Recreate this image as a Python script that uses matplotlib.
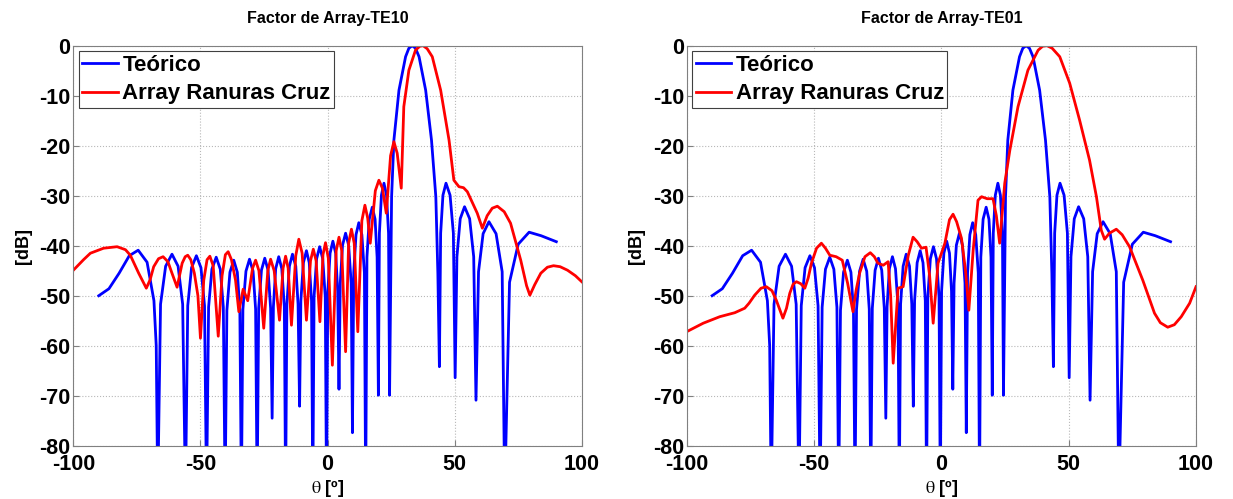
import matplotlib
matplotlib.use("Agg")
import matplotlib.pyplot as plt

# theoretical array factor (same in both panels)
theta_teo = [-90, -86, -82, -78, -74.5, -71.0, -68.3, -67.4, -66.8,
             -65.7, -63.7, -61.2, -58.8, -57.0, -55.9,
             -55.0, -53.5, -51.6, -49.8, -48.4, -47.6,
             -46.8, -45.5, -43.8, -42.2, -41.0, -40.3,
             -39.6, -38.4, -36.9, -35.5, -34.5, -33.9,
             -33.3, -32.1, -30.7, -29.3, -28.3, -27.7,
             -27.1, -26.0, -24.7, -23.4, -22.4, -21.8,
             -21.3, -20.4, -19.2, -18.0, -17.0, -16.5,
             -16.0, -15.0, -13.8, -12.5, -11.6, -11.0,
             -10.5, -9.5, -8.3, -7.2, -6.3, -5.8,
             -5.3, -4.3, -3.1, -1.9, -0.9, -0.4,
             0.1, 1.0, 2.1, 3.2, 4.0, 4.5,
             5.0, 5.9, 7.1, 8.3, 9.3, 9.8,
             10.3, 11.2, 12.3, 13.5, 14.5, 15.0,
             15.5, 16.4, 17.6, 18.7, 19.5, 20.0,
             20.4, 21.2, 22.2, 23.2, 24.0, 24.4,
             25.2, 26.1, 28.1, 30.7, 32.0, 33.3, 34.6, 36.0, 38.6, 40.9, 42.6, 43.4, 44.0,
             44.5, 45.4, 46.6, 48.2, 49.5, 50.2,
             50.9, 52.2, 53.9, 55.9, 57.5, 58.4,
             59.4, 61.2, 63.5, 66.3, 68.7, 69.7,
             71.6, 75.0, 79.3, 84.0, 90.0]
db_teo = [-50, -48.6, -45.5, -42.0, -40.9, -43.3, -51, -60, -90,
          -51.7, -44.1, -41.7, -44.1, -51.7, -90,
          -52.0, -44.4, -42.0, -44.4, -52.0, -90,
          -52.3, -44.7, -42.3, -44.7, -52.3, -90,
          -52.9, -45.3, -42.9, -45.3, -52.9, -90,
          -52.7, -45.1, -42.7, -45.1, -52.7, -90,
          -52.5, -44.9, -42.5, -44.9, -52.5, -74.5,
          -52.2, -44.6, -42.2, -44.6, -52.2, -90,
          -51.7, -44.1, -41.7, -44.1, -51.7, -72.1,
          -51.0, -43.4, -41.0, -43.4, -51.0, -90,
          -50.2, -42.6, -40.2, -42.6, -50.2, -90,
          -49.1, -41.5, -39.1, -41.5, -49.1, -68.7,
          -47.5, -39.9, -37.5, -39.9, -47.5, -77.4,
          -45.4, -37.8, -35.4, -37.8, -45.4, -90,
          -42.3, -34.7, -32.3, -34.7, -42.3, -69.9,
          -37.5, -29.9, -27.5, -29.9, -37.5, -69.9,
          -30.2, -18.9, -8.9, -2.2, -0.5, 0, -0.5, -2.2, -8.9, -18.9, -30.2, -45.5, -64.2,
          -37.5, -29.9, -27.5, -29.9, -37.5, -66.4,
          -42.2, -34.6, -32.2, -34.6, -42.2, -70.9,
          -45.2, -37.6, -35.2, -37.6, -45.2, -90,
          -47.3, -39.7, -37.3, -38.0, -39.2]

# measured, TE10
theta_te10 = [-100, -96, -93.3, -88.1, -82.8, -79.5, -77.6, -74.3, -71.3, -69.8,
              -68.4, -66.5, -64.7, -62.8, -61.2, -59.2, -57.2, -56.0, -55.0, -53.8,
              -52.4, -51.0, -50.0, -48.7, -47.4, -46.3, -45.0, -43.0, -41.5, -40.2,
              -39.1, -37.8, -36.2, -34.9, -33.2, -31.4, -29.5, -28.3, -27.0, -25.1,
              -23.5, -22.4, -21.0, -18.9, -17.5, -16.5, -15.5, -14.2, -12.5, -11.3,
              -10.0, -8.3, -6.7, -5.6, -4.5, -3.0, -1.8, -0.8, 0.3, 1.9,
              3.4, 4.5, 5.6, 7.1, 8.3, 9.4, 10.5, 11.9, 13.5, 14.7,
              15.8, 16.8, 18.8, 20.2, 21.6, 23.1, 24.8, 26.1, 27.4, 29.0,
              30.0, 32.0, 34.6, 36.3, 37.6, 39.2, 41.2, 44.5, 47.8, 49.7,
              51.7, 53.5, 55.0, 58.9, 60.9, 62.8, 64.8, 66.8, 69.5, 72.0,
              76.0, 78.3, 79.6, 81.5, 83.9, 86.5, 88.9, 91.5, 94.4, 97.5, 100]
db_te10 = [-44.9, -42.8, -41.5, -40.5, -40.2, -40.8, -41.9, -45.5, -48.5, -46.8,
           -44.2, -42.6, -42.2, -43.2, -45.5, -48.3, -43.5, -42.2, -41.9, -42.8,
           -45.5, -50.0, -58.5, -46.9, -42.8, -42.1, -44.0, -58.1, -46.0, -41.8,
           -41.2, -42.8, -46.9, -53.2, -48.7, -51.0, -44.5, -42.9, -45.0, -56.5,
           -45.0, -42.7, -45.0, -54.9, -44.5, -42.1, -44.5, -55.9, -42.0, -38.7,
           -41.5, -54.9, -43.0, -40.7, -43.0, -55.2, -41.8, -39.4, -42.5, -63.9,
           -41.0, -38.3, -41.0, -61.2, -39.5, -36.7, -39.5, -57.2, -35.0, -31.9,
           -34.5, -39.5, -29.0, -26.9, -28.5, -33.5, -22.0, -19.2, -21.5, -28.5,
           -12.2, -4.9, -0.9, -0.1, 0, -0.6, -2.2, -8.9, -18.9, -26.9,
           -28.2, -28.4, -29.2, -33.5, -36.5, -34.0, -32.5, -32.1, -33.2, -35.5,
           -42.9, -48.0, -49.9, -47.8, -45.5, -44.3, -44.0, -44.2, -44.9, -46.0, -47.2]

# measured, TE01
theta_te01 = [-100, -93.5, -87.0, -81.1, -77.2, -75.5, -73.3, -70.8, -68.7, -66.5,
              -64.8, -62.2, -60.8, -59.5, -58.2, -56.9, -55.2, -53.6, -52.3, -51.0,
              -49.0, -47.1, -45.5, -43.8, -41.3, -38.9, -36.8, -34.7, -33.5, -32.1,
              -30.0, -27.9, -26.3, -24.9, -22.8, -20.9, -19.9, -18.9, -17.0, -15.0,
              -13.0, -11.1, -9.5, -7.8, -6.0, -4.6, -3.2, -1.3, 1.4, 3.2,
              4.6, 6.0, 7.9, 9.5, 10.8, 12.5, 14.4, 15.8, 18.0, 20.3,
              21.6, 22.9, 24.9, 26.9, 30.1, 34.0, 38.0, 39.8, 41.5, 43.5,
              46.5, 50.4, 54.3, 58.2, 60.9, 62.8, 64.1, 66.0, 68.7, 71.0,
              73.9, 79.1, 83.7, 86.0, 88.9, 91.5, 94.2, 97.5, 100]
db_te01 = [-57.2, -55.5, -54.2, -53.4, -52.5, -51.5, -49.9, -48.5, -48.2, -49.0,
           -50.9, -54.5, -52.5, -49.5, -47.7, -47.2, -47.6, -48.5, -46.5, -43.5,
           -40.5, -39.5, -40.5, -41.9, -42.2, -42.9, -47.5, -53.2, -49.0, -45.5,
           -42.2, -41.4, -42.2, -43.5, -43.9, -43.2, -50.0, -63.5, -48.5, -48.2,
           -42.0, -38.3, -39.2, -40.5, -40.3, -46.0, -55.5, -43.5, -39.5, -34.8,
           -33.7, -35.2, -38.5, -45.0, -52.9, -40.9, -30.9, -30.2, -30.6, -30.6,
           -34.0, -39.5, -27.5, -20.9, -12.2, -4.9, -0.9, -0.1, 0, -0.5,
           -2.2, -7.5, -14.9, -22.9, -30.2, -36.9, -38.7, -37.5, -36.7, -37.8,
           -40.2, -46.9, -53.5, -55.4, -56.3, -55.8, -54.2, -51.5, -48.2]

titles = ["Factor de Array-TE10", "Factor de Array-TE01"]
measured = [(theta_te10, db_te10), (theta_te01, db_te01)]

plt.rcParams["font.family"] = ["Liberation Sans", "DejaVu Sans"]
plt.rcParams["mathtext.fontset"] = "stix"
plt.rcParams["axes.unicode_minus"] = False

fig = plt.figure(figsize=(12.33, 4.99), dpi=100)
axes = [fig.add_axes([0.0595, 0.1068, 0.4123, 0.8016]),
        fig.add_axes([0.5569, 0.1068, 0.4131, 0.8016])]

for ax, title, (th, db) in zip(axes, titles, measured):
    ax.plot(theta_teo, db_teo, color="blue", lw=2.0, label="Teórico")
    ax.plot(th, db, color="red", lw=2.0, label="Array Ranuras Cruz")
    ax.set_xlim(-100, 100)
    ax.set_ylim(-80, 0)
    ax.set_xticks([-100, -50, 0, 50, 100])
    ax.set_yticks(range(-80, 1, 10))
    ax.grid(True, linestyle=":", color="#b8b8b8", linewidth=0.8)
    ax.tick_params(direction="in", length=4, color="#808080", labelsize=15.5)
    ax.tick_params(axis="y", pad=2)
    ax.tick_params(axis="x", pad=6)
    for lab in ax.get_xticklabels() + ax.get_yticklabels():
        lab.set_fontweight("bold")
    for sp in ax.spines.values():
        sp.set_color("#808080")
    ax.set_title(title, fontsize=11.5, fontweight="bold", pad=16)
    ax.set_ylabel("[dB]", fontsize=13, fontweight="bold")
    ax.yaxis.set_label_coords(-0.082, 0.5)
    ax.set_xlabel(r"$\mathrm{\theta}$ [º]", fontsize=13, fontweight="bold", labelpad=2)
    leg = ax.legend(loc="upper left", handlelength=1.6, handletextpad=0.2,
                    borderaxespad=0.25, borderpad=0.15, labelspacing=0.35,
                    fancybox=False, framealpha=1, prop={"weight": "bold", "size": 16})
    leg.get_frame().set_edgecolor("#404040")
    leg.get_frame().set_linewidth(0.8)

plt.savefig("out.png", dpi=100)
plt.close(fig)
